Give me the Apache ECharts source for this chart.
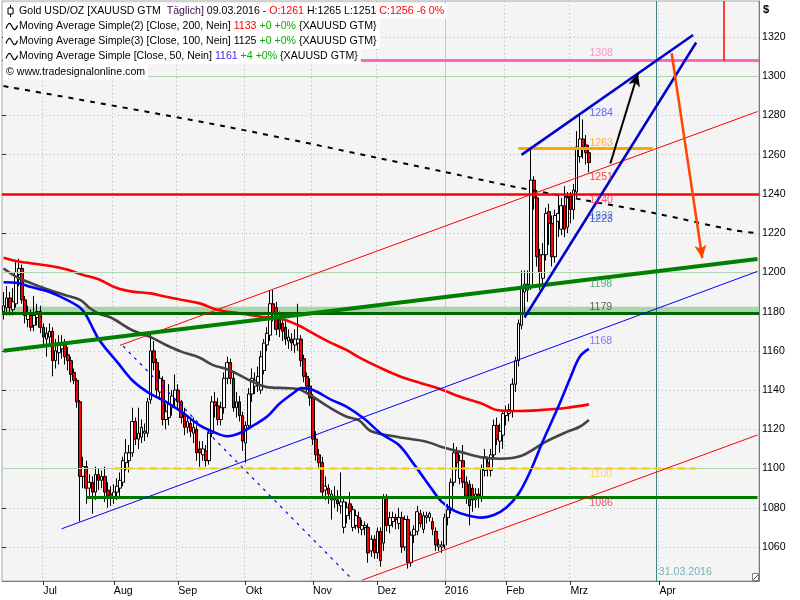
<!DOCTYPE html>
<html><head><meta charset="utf-8">
<script src="https://cdn.jsdelivr.net/npm/echarts@6/dist/echarts.min.js"></script>
<style>html,body{margin:0;padding:0;background:#fff}#c{width:800px;height:600px}</style>
</head><body><div id="c"></div>
<script>
const FONT = "'Liberation Sans', Arial, sans-serif";
const FS = 10.6;

// ---------- axis / categories ----------
const slotCount = 247; // trading days Jun 12 2015 .. Mar 9 2016, then calendar days into the future
const monthTicks = {13:'Jul',36:'Aug',57:'Sep',79:'Okt',101:'Nov',122:'Dez',144:'2016',164:'Feb',185:'Mrz',214:'Apr'};
const yearIndex = 144;
const dateLineIndex = 213;
const dateLineText = '31.03.2016';
const labelIndex = 191;

// ---------- daily candles [open, close, low, high] ----------
const candles = [
[1180,1183,1176,1190],[1182,1187,1178,1193],[1187,1182,1178,1190],[1181,1185,1178,1192],[1184,1200,1182,1206],
[1199,1202,1193,1207],[1202,1186,1184,1204],[1186,1178,1174,1188],[1176,1179,1172,1183],[1178,1172,1170,1181],
[1173,1178,1170,1188],[1177,1180,1173,1184],[1180,1172,1169,1183],[1172,1167,1163,1174],[1166,1169,1157,1172],
[1167,1170,1163,1174],[1170,1155,1147,1172],[1155,1160,1151,1166],[1159,1164,1153,1168],[1161,1163,1156,1168],
[1164,1157,1153,1166],[1158,1155,1150,1162],[1155,1148,1144,1157],[1149,1145,1143,1151],[1145,1134,1131,1146],
[1134,1096,1073,1135],[1096,1101,1090,1106],[1101,1090,1082,1104],[1090,1093,1085,1097],[1093,1088,1077,1096],
[1088,1097,1084,1101],[1097,1094,1089,1100],[1094,1096,1090,1099],[1096,1088,1083,1101],[1089,1086,1080,1093],
[1087,1085,1081,1091],[1085,1088,1082,1092],[1088,1091,1084,1095],[1090,1094,1086,1098],[1093,1104,1091,1106],
[1103,1108,1099,1115],[1104,1108,1098,1112],[1108,1124,1106,1131],[1124,1115,1112,1126],[1115,1118,1110,1131],
[1116,1121,1113,1125],[1118,1119,1114,1123],[1118,1134,1116,1136],[1135,1160,1133,1170],[1160,1154,1150,1165],
[1154,1140,1137,1156],[1139,1146,1135,1150],[1145,1125,1122,1147],[1125,1129,1120,1133],[1126,1133,1122,1143],
[1131,1137,1127,1140],[1135,1140,1131,1148],[1140,1134,1130,1143],[1134,1126,1123,1135],[1128,1121,1117,1131],
[1121,1124,1118,1127],[1123,1119,1116,1126],[1118,1121,1113,1126],[1120,1108,1104,1122],[1110,1108,1101,1114],
[1107,1110,1104,1114],[1109,1104,1101,1112],[1104,1118,1102,1120],[1118,1134,1116,1137],[1134,1132,1126,1139],
[1132,1125,1122,1136],[1125,1131,1122,1134],[1131,1146,1128,1149],[1146,1154,1143,1157],[1154,1146,1143,1156],
[1146,1131,1129,1149],[1131,1134,1126,1139],[1134,1127,1124,1137],[1127,1114,1109,1129],[1113,1122,1103,1124],
[1122,1138,1120,1141],[1138,1146,1134,1151],[1142,1145,1138,1149],[1144,1147,1139,1152],[1140,1157,1138,1160],
[1150,1164,1148,1166],[1163,1169,1160,1172],[1168,1184,1165,1191],[1184,1179,1175,1191],[1182,1171,1168,1185],
[1176,1171,1167,1180],[1174,1170,1165,1177],[1172,1166,1163,1175],[1165,1167,1161,1171],[1166,1164,1160,1169],
[1163,1166,1159,1171],[1164,1166,1160,1184],[1166,1155,1152,1168],[1156,1147,1144,1158],[1147,1142,1139,1149],
[1142,1136,1132,1146],[1136,1115,1112,1138],[1115,1107,1104,1119],[1107,1103,1100,1110],[1103,1088,1085,1106],
[1089,1091,1084,1096],[1090,1087,1082,1092],[1084,1087,1074,1089],[1084,1086,1080,1091],[1084,1082,1078,1089],
[1081,1083,1077,1098],[1070,1083,1067,1086],[1076,1080,1072,1083],[1082,1078,1074,1088],[1070,1079,1068,1081],
[1071,1076,1069,1079],[1075,1070,1067,1078],[1069,1071,1066,1074],[1070,1071,1066,1073],[1070,1057,1052,1072],
[1058,1064,1055,1066],[1064,1057,1054,1066],[1057,1068,1054,1070],[1068,1053,1050,1070],[1062,1085,1058,1087],
[1085,1071,1068,1087],[1071,1075,1067,1078],[1073,1075,1070,1078],[1075,1074,1069,1077],[1072,1075,1069,1080],
[1075,1060,1057,1078],[1060,1074,1058,1076],[1074,1052,1049,1076],[1052,1066,1050,1068],[1066,1069,1062,1071],
[1068,1078,1066,1081],[1077,1072,1070,1079],[1069,1076,1067,1078],[1075,1076,1072,1078],[1075,1077,1073,1078],
[1073,1069,1066,1075],[1068,1061,1058,1070],[1060,1061,1058,1064],[1060,1061,1057,1063],[1061,1075,1059,1077],
[1075,1079,1071,1082],[1079,1093,1077,1095],[1093,1108,1091,1113],[1108,1103,1099,1111],[1095,1104,1092,1107],
[1104,1093,1090,1112],[1093,1086,1082,1096],[1092,1081,1071,1094],[1090,1084,1078,1092],[1084,1087,1080,1090],
[1087,1085,1080,1090],[1085,1100,1083,1102],[1099,1106,1096,1110],[1103,1100,1096,1106],[1099,1107,1096,1110],
[1107,1122,1105,1125],[1122,1115,1112,1126],[1114,1119,1108,1123],[1117,1128,1110,1130],[1127,1129,1122,1132],
[1128,1130,1124,1133],[1129,1143,1126,1146],[1143,1155,1139,1157],[1155,1174,1152,1176],[1173,1193,1171,1201],
[1190,1194,1178,1201],[1191,1194,1185,1201],[1193,1247,1191,1264],[1247,1238,1232,1249],[1238,1208,1203,1240],
[1209,1200,1191,1212],[1197,1209,1194,1215],[1209,1230,1206,1233],[1231,1225,1214,1235],[1225,1208,1203,1229],
[1208,1229,1205,1232],[1226,1230,1218,1240],[1222,1234,1219,1238],[1234,1222,1218,1244],[1223,1238,1220,1241],
[1239,1232,1225,1241],[1232,1242,1227,1245],[1241,1264,1238,1272],[1259,1268,1256,1280],[1268,1264,1258,1278],
[1265,1261,1255,1270],[1261,1256,1251,1265]
];

// ---------- moving averages [slot, value] ----------
const ma200 = [[0,1207.5],[5,1205.5],[13,1203.8],[20,1201.7],[26,1198.7],[31,1196.5],[37,1192],[42,1190.2],[48,1189.3],[53,1187.6],[58,1186],[64,1184.2],[70,1180.8],[77,1179.1],[84,1177.4],[90,1176.6],[96,1173.2],[100,1169.8],[106,1164.7],[112,1160.4],[116,1156.7],[123,1151.3],[129,1147.2],[136,1143.6],[142,1140.8],[149,1136.6],[156,1133.2],[161,1129.8],[167,1129.3],[175,1129.8],[184,1131],[191,1132.7]];
const ma100 = [[0,1202],[5,1197],[9,1194.5],[15,1191],[20,1188.5],[25,1186],[28,1182],[31,1179],[35,1177],[42,1170.5],[48,1167],[53,1163],[58,1159.6],[64,1156.5],[68,1153],[74,1150],[79,1146],[86,1141.5],[92,1141],[96,1140.5],[100,1137.5],[106,1131.5],[112,1126.4],[116,1124.5],[120,1119],[129,1116],[138,1113.7],[143,1111],[149,1108.5],[156,1105.7],[162,1105],[169,1106.5],[177,1113.7],[184,1118.8],[188,1121.3],[191,1124.7]];
const ma50 = [[0,1195],[5,1194.5],[9,1192.5],[15,1190],[20,1186.5],[25,1182],[27,1178],[29,1172],[31,1166],[34,1160],[37,1154.5],[42,1145],[47,1139],[53,1134],[58,1129],[64,1122],[68,1119],[73,1116.5],[77,1118],[81,1121.5],[86,1126.5],[90,1133],[95,1139],[97,1141],[101,1140],[107,1135],[112,1131.5],[118,1125],[123,1118],[129,1112],[134,1102],[140,1089],[143,1083],[147,1078.5],[151,1076.3],[156,1075],[160,1076.3],[164,1080],[168,1087],[172,1099],[176,1114],[181,1131.5],[185,1146.5],[188,1157],[191,1161]];
const longDashed = [[0,1295],[72,1274.5],[143,1251.5],[164,1244.5],[189,1237],[213,1230],[238,1221.6],[246,1220]];

// ---------- drawn levels and trend lines [slot, price] ----------
const gridGreenLevels = [1100, 1200, 1300];
const pinkLevel = 1308;
const redLevel = 1240;
const greenLevel = 1179.2;
const greenBand = [1178.3, 1182.5];
const orangeLevel = [[168, 1263.5], [212, 1263.5]];
const yellowLevel = [[36, 1100], [226, 1100]];
const green1086 = [[27, 1085.6], [246, 1085.6]];
const redUpper = [[38, 1162.8], [246, 1282.0]];
const redLower = [[117, 1043.1], [246, 1117.1]];
const blueLong = [[19, 1069.3], [246, 1200.5]];
const blueDashed = [[39, 1162.4], [114, 1043.2]];
const greenTrend = [[0, 1160.1], [246, 1206.8]];
const wedgeUpper = [[169, 1259.9], [225, 1321.0]];
const wedgeLower = [[170, 1177.0], [226, 1317.2]];
const blackArrow = [[198, 1255.5], [207, 1301.5]];
const orangeArrow = [[218, 1311.7], [228, 1207.2]];
const redMarker = [[235, 1308], [235, 1338.3]];

// ---------- value labels at the last bar ----------
const levelLabelValues = [1308, 1284, 1263, 1251, 1240, 1232, 1223, 1198, 1179, 1168, 1100, 1086];
const levelLabelStyle = {
  1308:{c:'#ff7fc0',dy:-7}, 1284:{c:'#3c3cff',dy:5}, 1263:{c:'#ffa000',dy:-6}, 1251:{c:'#ff1a1a',dy:5},
  1240:{c:'#ff2a55',dy:6}, 1232:{c:'#4a6cff',dy:6}, 1223:{c:'#1d3d9a',dy:-8}, 1198:{c:'#3a9a6a',dy:8},
  1179:{c:'#1f4f1f',dy:-6}, 1168:{c:'#5a5aff',dy:6}, 1100:{c:'#ffcf40',dy:6}, 1086:{c:'#e0305a',dy:7}
};

// ---------- build ----------
const categories = Array.from({length: slotCount}, (_, i) => String(i));
const isTick = (index) => Object.prototype.hasOwnProperty.call(monthTicks, index);
const tickOrder = Object.keys(monthTicks).map(Number);
const monthLineColors = tickOrder.map(i => i === yearIndex ? 'rgba(0,0,0,0)' : '#b4b4b4');

function seg(pts, style, endSymbol, endSize) {
  return [
    {coord: pts[0], lineStyle: style, symbol: 'none'},
    {coord: pts[1], symbol: endSymbol || 'none', symbolSize: endSize || 0}
  ];
}
const markLines = [];
gridGreenLevels.forEach(v => markLines.push({yAxis: v, lineStyle: {color: '#b2d4b2', width: 1, type: 'solid'}}));
markLines.push({xAxis: yearIndex, lineStyle: {color: '#b2d4b2', width: 1, type: 'solid'}});
markLines.push({xAxis: dateLineIndex, lineStyle: {color: '#3f8080', width: 1, type: 'solid'}});
markLines.push(seg(yellowLevel, {color: '#ffd200', width: 2.5, type: [7, 5]}));
markLines.push({yAxis: greenLevel, lineStyle: {color: '#006400', width: 3, type: 'solid'}});
markLines.push(seg(green1086, {color: '#007800', width: 3, type: 'solid'}));
markLines.push(seg(redUpper, {color: '#ff0000', width: 1, type: 'solid'}));
markLines.push(seg(redLower, {color: '#ff0000', width: 1, type: 'solid'}));
markLines.push(seg(blueLong, {color: '#0000ff', width: 1, type: 'solid'}));
markLines.push(seg(blueDashed, {color: '#0000ff', width: 1.2, type: [3, 5]}));
markLines.push(seg(greenTrend, {color: '#008000', width: 4, type: 'solid'}));
markLines.push({yAxis: redLevel, lineStyle: {color: '#ff0000', width: 2.5, type: 'solid'}});
markLines.push(seg(orangeLevel, {color: '#ffa500', width: 3, type: 'solid'}));
markLines.push({yAxis: pinkLevel, lineStyle: {color: '#ff69b4', width: 3, type: 'solid'}});
markLines.push(seg(redMarker, {color: '#ff0000', width: 1.5, type: 'solid'}));
markLines.push(seg(wedgeUpper, {color: '#0000cc', width: 2.5, type: 'solid'}));
markLines.push(seg(wedgeLower, {color: '#0000cc', width: 2.5, type: 'solid'}));
markLines.push(seg(blackArrow, {color: '#000000', width: 2, type: 'solid'}, 'arrow', [9, 13]));
markLines.push(seg(orangeArrow, {color: '#ff4500', width: 2.5, type: 'solid'}, 'arrow', [9, 13]));

const labelData = levelLabelValues.map(v => ({
  value: [labelIndex, v],
  label: {formatter: String(v), color: levelLabelStyle[v].c, offset: [0, levelLabelStyle[v].dy]}
}));

function rs(color) { return {fill: color, fontSize: FS, fontFamily: FONT, lineHeight: 13}; }
const rich = {k: rs('#000'), p: rs('#3a0a4a'), r: rs('#ff0000'), g: rs('#00b000'), b: rs('#4028ff')};
const legendLines = [
  '{k|Gold USD/OZ [XAUUSD GTM  }{p|Täglich]}{k| 09.03.2016 - }{r|O:1261}{k| H:1265 L:1251 }{r|C:1256 -6 0%}',
  '{k|Moving Average Simple(2) [Close, 200, Nein] }{r|1133}{g| +0 +0%} {XAUUSD GTM}',
  '{k|Moving Average Simple(3) [Close, 100, Nein] 1125}{g| +0 +0%} {XAUUSD GTM}',
  '{k|Moving Average Simple [Close, 50, Nein] }{b|1161}{g| +4 +0%} {XAUUSD GTM}',
  '© www.tradesignalonline.com'
];
const lineCenters = [11, 26.5, 41.5, 56.5, 72];
const graphics = [];
legendLines.forEach((t, i) => {
  graphics.push({
    type: 'text', left: 3, top: lineCenters[i] - 7.5, z: 100,
    style: {text: t, rich: rich, fill: '#000', fontSize: FS, fontFamily: FONT, lineHeight: 13,
      backgroundColor: '#ffffff', padding: i === 4 ? [1, 3, 1, 3] : [1, 3, 1, 16]}
  });
});
// candle icon
graphics.push({type: 'line', z: 101, shape: {x1: 10.5, y1: 5, x2: 10.5, y2: 17}, style: {stroke: '#000', lineWidth: 1}});
graphics.push({type: 'rect', z: 102, shape: {x: 8, y: 8, width: 5, height: 6}, style: {fill: '#fff', stroke: '#000', lineWidth: 1}});
// wave icons
[26.5, 41.5, 56.5].forEach(c => {
  graphics.push({type: 'polyline', z: 101, shape: {points: [[6, c + 2], [8, c - 2], [10, c - 3], [12, c], [14, c + 3], [16, c + 2], [17.5, c - 1]], smooth: 0.4},
    style: {stroke: '#000', lineWidth: 1.2, fill: null}});
});
graphics.push({type: 'text', left: 763, top: 4, z: 100, style: {text: '$', fill: '#000', fontSize: 11, fontWeight: 'bold', fontFamily: FONT}});
graphics.push({type: 'rect', z: 100, shape: {x: 752.5, y: 573.5, width: 6, height: 7}, style: {fill: '#fff', stroke: '#808080', lineWidth: 1}});
graphics.push({type: 'line', z: 101, shape: {x1: 753.5, y1: 579.5, x2: 758, y2: 575}, style: {stroke: '#404040', lineWidth: 1}});

const maLine = (name, data, color) => ({type: 'line', name: name, data: data, smooth: 0.35,
  showSymbol: false, lineStyle: {color: color, width: 2.6}});

const option = {
  animation: false,
  backgroundColor: '#ffffff',
  textStyle: {fontFamily: FONT},
  grid: [
    {left: 2, right: 41, top: 1, bottom: 19, show: true, backgroundColor: '#f4f4f4', borderColor: '#a8a8a8', borderWidth: 1},
    {left: 2, right: 41, top: 37, height: 510, show: false}
  ],
  xAxis: [
    {gridIndex: 0, type: 'category', data: categories, boundaryGap: true,
     axisLine: {onZero: false, lineStyle: {color: '#7a7a7a', width: 1}},
     axisTick: {show: true, alignWithLabel: true, interval: isTick, length: 4, lineStyle: {color: '#303030'}},
     axisLabel: {interval: isTick, formatter: v => monthTicks[v] || '', align: 'left', margin: 5, color: '#000', fontSize: FS, fontFamily: FONT},
     splitLine: {show: true, interval: isTick, lineStyle: {type: [1, 3], color: monthLineColors, width: 1}}},
    {gridIndex: 1, type: 'value', show: false, min: 0, max: 1}
  ],
  yAxis: [
    {gridIndex: 0, type: 'value', position: 'right', min: 1042.67, max: 1338.35,
     axisLine: {show: true, lineStyle: {color: '#7a7a7a', width: 1}}, axisTick: {show: false}, axisLabel: {show: false}, splitLine: {show: false}},
    {gridIndex: 1, type: 'value', position: 'right', min: 1060, max: 1320, interval: 20,
     axisLine: {show: false}, axisTick: {show: true, length: 4, lineStyle: {color: '#303030'}},
     axisLabel: {margin: 3, color: '#000', fontSize: FS, fontFamily: FONT, formatter: v => String(v)},
     splitLine: {show: true, lineStyle: {type: [1, 3], color: '#b4b4b4', width: 1}}}
  ],
  series: [
    {type: 'candlestick', name: 'Gold', xAxisIndex: 0, yAxisIndex: 0, data: candles, barWidth: 3.2,
     itemStyle: {color: '#ffffff', color0: '#ff0000', borderColor: '#000000', borderColor0: '#000000', borderWidth: 1},
     markArea: {silent: true, itemStyle: {color: '#a9d4a9'}, data: [[{yAxis: greenBand[0]}, {yAxis: greenBand[1]}]]},
     markLine: {silent: true, symbol: ['none', 'none'], label: {show: false}, animation: false, data: markLines}},
    maLine('MA200', ma200, '#ff0000'),
    maLine('MA100', ma100, '#444444'),
    maLine('MA50', ma50, '#0000ff'),
    {type: 'line', name: 'Long', data: longDashed, smooth: 0.3, showSymbol: false, lineStyle: {color: '#000000', width: 2, type: [5, 6]}},
    {type: 'scatter', name: 'levels', data: labelData, symbolSize: 1, itemStyle: {color: 'rgba(0,0,0,0)'}, z: 10,
     label: {show: true, position: 'right', distance: 0, fontSize: FS, fontFamily: FONT}},
    {type: 'scatter', name: 'date', data: [{value: [dateLineIndex, 1047.25], label: {formatter: dateLineText}}], symbolSize: 1,
     itemStyle: {color: 'rgba(0,0,0,0)'}, z: 10,
     label: {show: true, position: 'right', distance: 2, color: '#5f9ea0', fontSize: FS, fontFamily: FONT}}
  ],
  graphic: graphics
};
const chart = echarts.init(document.getElementById('c'), null, {renderer: 'canvas'});
chart.setOption(option);
</script>
</body></html>
